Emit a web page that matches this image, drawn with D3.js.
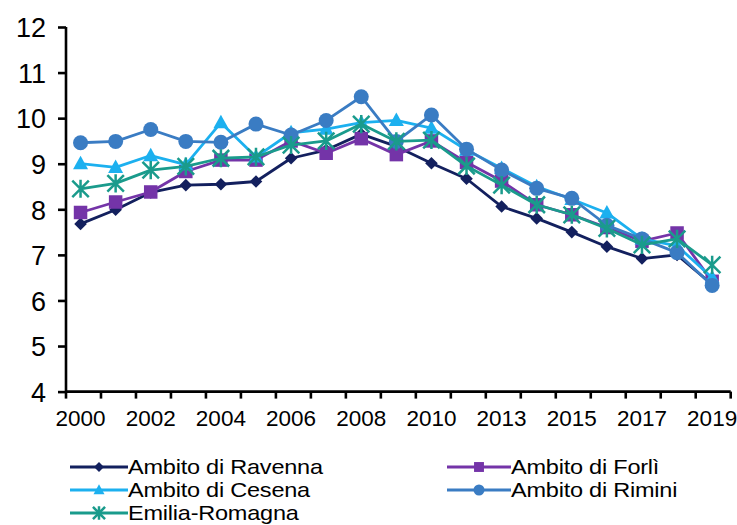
<!DOCTYPE html>
<html>
<head>
<meta charset="utf-8">
<script src="https://cdn.jsdelivr.net/npm/d3@7"></script>
<style>
  html, body { margin: 0; padding: 0; background: #fff; }
  svg { display: block; font-family: "Liberation Sans", Arial, sans-serif; }
</style>
</head>
<body>
<svg id="chart" width="737" height="525"></svg>
<script>
// Categories (2011 is not in the series)
const years = ["2000","2001","2002","2003","2004","2005","2006","2007","2008","2009","2010",
               "2012","2013","2014","2015","2016","2017","2018","2019"];
const tickLabels = ["2000","2002","2004","2006","2008","2010","2013","2015","2017","2019"];
const yTicks = [4, 5, 6, 7, 8, 9, 10, 11, 12];

const seriesNames = ["Ambito di Ravenna", "Ambito di Forlì", "Ambito di Cesena", "Ambito di Rimini", "Emilia-Romagna"];
const ravenna = [7.68, 7.99, 8.37, 8.53, 8.55, 8.61, 9.12, 9.30, 9.65, 9.38, 9.01, 8.67, 8.06, 7.80, 7.50, 7.18, 6.92, 7.00, 6.35];
const forli   = [7.93, 8.16, 8.38, 8.83, 9.08, 9.08, 9.50, 9.23, 9.55, 9.20, 9.50, 9.03, 8.62, 8.10, 7.88, 7.60, 7.30, 7.48, 6.42];
const cesena  = [9.00, 8.92, 9.18, 8.98, 9.90, 9.15, 9.68, 9.76, 9.90, 9.95, 9.78, 9.30, 8.90, 8.50, 8.22, 7.92, 7.35, 7.20, 6.50];
const rimini  = [9.46, 9.49, 9.75, 9.49, 9.47, 9.87, 9.63, 9.95, 10.47, 9.49, 10.07, 9.32, 8.86, 8.46, 8.24, 7.65, 7.35, 7.05, 6.33];
const emilia  = [8.45, 8.57, 8.86, 8.94, 9.12, 9.15, 9.41, 9.50, 9.87, 9.49, 9.52, 8.95, 8.53, 8.10, 7.88, 7.58, 7.22, 7.35, 6.78];

const colors = ["#13205e", "#7434a8", "#1cb0ef", "#3a7cc3", "#1a9b8c"];
const shapes = ["diamond", "square", "triangle", "circle", "star"];
const allValues = [ravenna, forli, cesena, rimini, emilia];

const series = seriesNames.map((name, i) => ({
  name, color: colors[i], shape: shapes[i],
  values: allValues[i].map((v, j) => ({ year: years[j], v }))
}));

const svg = d3.select("#chart");
const x0 = 66, x1 = 730.7, yTop = 27, yBot = 391.6;

const x = d3.scalePoint().domain(years).range([x0 - 3, x1 - 1]).padding(0.5);
const step = (x1 - x0) / years.length;
const y = d3.scaleLinear().domain([4, 12]).range([yBot, yTop]);

// Y axis
const yAxis = svg.append("g").attr("transform", `translate(${x0},0)`)
  .call(d3.axisLeft(y).tickValues(yTicks).tickSize(8).tickPadding(12).tickFormat(d3.format("d")));
yAxis.select(".domain").attr("stroke", "#000").attr("stroke-width", 2.6).attr("d", `M0,${yTop}V${yBot}`);
yAxis.selectAll(".tick line").attr("stroke", "#000").attr("stroke-width", 2.6);
yAxis.selectAll(".tick text").attr("fill", "#000").style("font-size", "27px").attr("dy", "0.36em");

// X axis: ticks sit between categories, labels centred on every other category
const bandEdges = d3.range(years.length + 1).map(i => x0 + i * step);
const xAxisG = svg.append("g");
xAxisG.append("line").attr("x1", x0).attr("x2", x1).attr("y1", yBot).attr("y2", yBot)
  .attr("stroke", "#000").attr("stroke-width", 2.6);
xAxisG.selectAll("line.tk").data(bandEdges).join("line").attr("class", "tk")
  .attr("x1", d => d).attr("x2", d => d).attr("y1", yBot).attr("y2", yBot + 7)
  .attr("stroke", "#000").attr("stroke-width", 2.6);
xAxisG.selectAll("text").data(tickLabels).join("text")
  .attr("x", d => x(d))
  .attr("y", 426)
  .attr("text-anchor", "middle")
  .attr("fill", "#000")
  .style("font-size", "22.5px")
  .text(d => d);

// Marker drawing
function drawMarker(g, shape, color, size) {
  const s = size;
  if (shape === "circle") {
    g.append("circle").attr("r", s * 0.5).attr("fill", color);
  } else if (shape === "square") {
    g.append("rect").attr("x", -s * 0.45).attr("y", -s * 0.45).attr("width", s * 0.9).attr("height", s * 0.9).attr("fill", color);
  } else if (shape === "diamond") {
    const h = s * 0.45;
    g.append("path").attr("d", `M0,${-h}L${h},0L0,${h}L${-h},0Z`).attr("fill", color);
  } else if (shape === "triangle") {
    const h = s * 0.5;
    g.append("path").attr("d", `M0,${-h * 1.05}L${h * 1.0},${h * 0.75}L${-h * 1.0},${h * 0.75}Z`).attr("fill", color);
  } else if (shape === "star") {
    const h = s * 0.55;
    g.append("path")
      .attr("d", `M${-h},${-h}L${h},${h}M${-h},${h}L${h},${-h}M0,${-h * 1.1}V${h * 1.1}`)
      .attr("stroke", color).attr("stroke-width", 2.5).attr("fill", "none");
  }
}

const line = d3.line().x(d => x(d.year)).y(d => y(d.v));

series.forEach(s => {
  const g = svg.append("g");
  g.append("path").datum(s.values).attr("d", line)
    .attr("fill", "none").attr("stroke", s.color).attr("stroke-width", 2.8).attr("stroke-linejoin", "round");
  s.values.forEach(p => {
    const mg = g.append("g").attr("transform", `translate(${x(p.year)},${y(p.v)})`);
    drawMarker(mg, s.shape, s.color, s.shape === "circle" ? 15 : (s.shape === "diamond" ? 14 : 15));
  });
});

// Legend
const legendPos = [
  { lx: 70, ly: 467 }, { lx: 447, ly: 467 },
  { lx: 70, ly: 490 }, { lx: 447, ly: 490 },
  { lx: 70, ly: 513 }
];
series.forEach((s, i) => {
  const p = legendPos[i];
  const g = svg.append("g").attr("transform", `translate(${p.lx},${p.ly})`);
  const lineLen = i % 2 === 0 ? 58 : 64;
  g.append("line").attr("x1", 0).attr("x2", lineLen).attr("y1", 0).attr("y2", 0)
    .attr("stroke", s.color).attr("stroke-width", 2.8);
  const mg = g.append("g").attr("transform", `translate(${lineLen / 2},0)`);
  drawMarker(mg, s.shape, s.color, 11);
  g.append("text")
    .attr("transform", `translate(${lineLen},0) scale(1.12,1)`)
    .attr("dy", "0.35em")
    .attr("fill", "#000").style("font-size", "21px").style("letter-spacing", "-0.2px")
    .text(s.name);
});
</script>
</body>
</html>
